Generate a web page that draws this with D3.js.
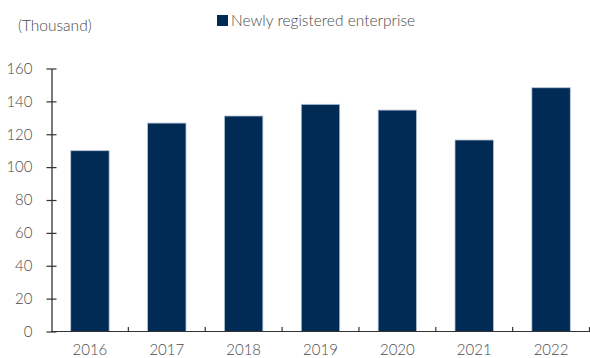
<!DOCTYPE html>
<html>
<head>
<meta charset="utf-8">
<script src="https://cdn.jsdelivr.net/npm/d3@7"></script>
<style>
  html, body { margin: 0; padding: 0; background: #fff; }
  svg { display: block; font-family: Lato, "Noto Sans", sans-serif; }
</style>
</head>
<body>
<svg id="chart" width="590" height="358"></svg>
<script>
const years = ["2016", "2017", "2018", "2019", "2020", "2021", "2022"];
const newEnterprises = [110, 126.8, 131.1, 138.2, 134.7, 116.5, 148.3];
const yTicks = [0, 20, 40, 60, 80, 100, 120, 140, 160];
const seriesName = "Newly registered enterprise";
const unitLabel = "(Thousand)";

const svg = d3.select("#chart");
const barColor = "#012b55";
const textColor = "#4a4a4a";
const fontFamily = "Lato, 'Noto Sans', sans-serif";
const fontWeight = 300;

const x = d3.scaleBand().domain(years).range([51.5, 589.5]).paddingInner(0.5).paddingOuter(0.25);
const y = d3.scaleLinear().domain([0, 160]).range([331.5, 68.5]);

// bars
svg.append("g").selectAll("rect")
  .data(years.map((yr, i) => ({ yr, v: newEnterprises[i] })))
  .join("rect")
  .attr("x", d => x(d.yr))
  .attr("width", x.bandwidth())
  .attr("y", d => y(d.v))
  .attr("height", d => y(0) - y(d.v))
  .attr("fill", barColor)
  .attr("stroke", "#b4c4d6")
  .attr("stroke-width", 0.8);

// y axis
const yAxis = svg.append("g")
  .attr("transform", "translate(51.5,0)")
  .call(d3.axisLeft(y).tickValues(yTicks).tickSize(0).tickPadding(19));
yAxis.select(".domain").attr("stroke", "#222").attr("stroke-width", 1.2);
yAxis.selectAll(".tick text").attr("fill", textColor).attr("font-size", 15)
  .attr("font-family", fontFamily).attr("font-weight", fontWeight);
yAxis.selectAll(".tick").append("line")
  .attr("x1", -5).attr("x2", 5)
  .attr("stroke", "#333").attr("stroke-width", 1.2);

// x axis: ticks at band boundaries, pointing upward
const xAxisG = svg.append("g").attr("transform", `translate(0,${y(0)})`);
xAxisG.append("line").attr("x1", 51.5).attr("x2", 590)
  .attr("stroke", "#333").attr("stroke-width", 1.2);
const step = x.step();
const boundaries = years.map((yr, i) => x.range()[0] + step * (i + 1));
xAxisG.selectAll("line.tk").data(boundaries).join("line")
  .attr("class", "tk")
  .attr("x1", d => d).attr("x2", d => d)
  .attr("y1", 0).attr("y2", -4.5)
  .attr("stroke", "#333").attr("stroke-width", 1.2);
xAxisG.selectAll("text").data(years).join("text")
  .attr("x", d => x(d) + x.bandwidth() / 2)
  .attr("y", 23.5)
  .attr("text-anchor", "middle")
  .attr("fill", textColor)
  .attr("font-family", fontFamily)
  .attr("font-weight", fontWeight)
  .attr("font-size", 15)
  .text(d => d);

// unit label
svg.append("text").attr("x", 18).attr("y", 31)
  .attr("fill", textColor).attr("font-family", fontFamily).attr("font-weight", fontWeight)
  .attr("font-size", 15.5).text(unitLabel);

// legend
svg.append("rect").attr("x", 217).attr("y", 15).attr("width", 11).attr("height", 11).attr("fill", barColor);
svg.append("text").attr("x", 231).attr("y", 25.5)
  .attr("fill", textColor).attr("font-family", fontFamily).attr("font-weight", fontWeight)
  .attr("font-size", 15.5).text(seriesName);
</script>
</body>
</html>
